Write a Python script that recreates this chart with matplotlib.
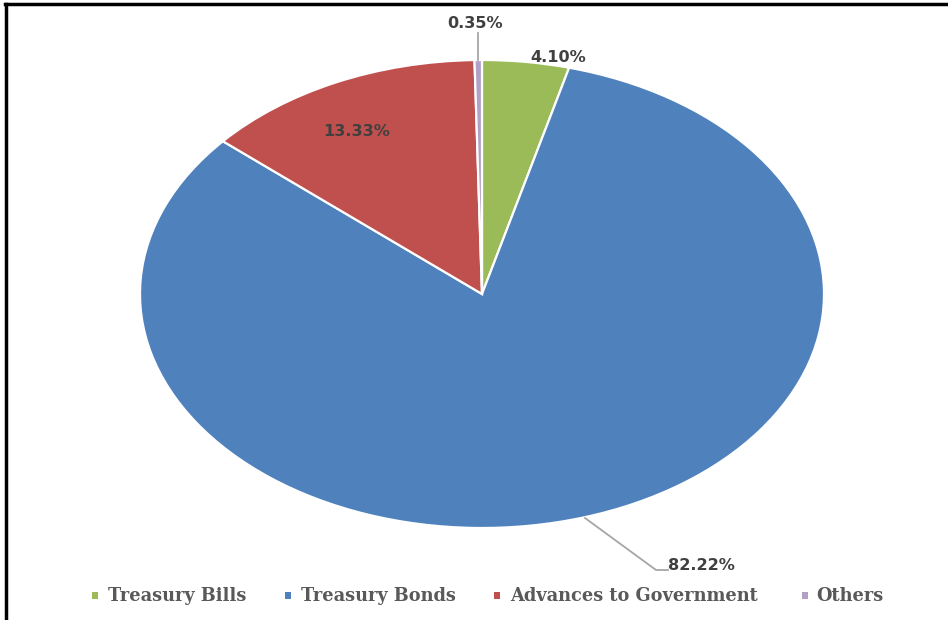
import matplotlib
matplotlib.use("Agg")
import matplotlib.pyplot as plt
from matplotlib.patches import Rectangle
from matplotlib.lines import Line2D

categories = ["Treasury Bills", "Treasury Bonds", "Advances to Government", "Others"]
shares = [4.10, 82.22, 13.33, 0.35]
colors = ["#9BBB59", "#4F81BD", "#C0504D", "#B2A1C7"]

W, H = 948, 620
cx, cy = 482, 294          # pie centre, pixels
rx, ry = 342, 234          # horizontal / vertical radius, pixels

fig = plt.figure(figsize=(W / 100, H / 100), dpi=100)
ax = fig.add_axes([0, 0, 1, 1])
wedges, _ = ax.pie(shares, colors=colors, startangle=90, counterclock=False,
                   wedgeprops=dict(edgecolor="white", linewidth=1.6))
ax.set_aspect("auto")
ax.set_xlim(-cx / rx, (W - cx) / rx)
ax.set_ylim(-(H - cy) / ry, cy / ry)
ax.axis("off")


def px(x, y):
    """Pixel position -> data coordinates of the pie axes."""
    return (x - cx) / rx, (cy - y) / ry


lab_kw = dict(fontsize=11.6, fontweight="bold", color="#404040",
              family="DejaVu Sans")
lead_kw = dict(color="#A6A6A6", linewidth=1.3)

# Treasury Bills
ax.text(*px(558, 58), f"{shares[0]:.2f}%", ha="center", va="center", **lab_kw)
# Treasury Bonds
ax.plot(*zip(px(585, 518), px(656, 570), px(668, 570)), **lead_kw)
ax.text(*px(668, 566), f"{shares[1]:.2f}%", ha="left", va="center", **lab_kw)
# Advances to Government
ax.text(*px(357, 131), f"{shares[2]:.2f}%", ha="center", va="center", **lab_kw)
# Others
ax.plot(*zip(px(478, 60), px(478, 33)), **lead_kw)
ax.text(*px(475, 24), f"{shares[3]:.2f}%", ha="center", va="center", **lab_kw)

# Frame lines on top and left edges
fig.add_artist(Line2D([5 / W, 1], [1 - 4 / H, 1 - 4 / H], color="black",
                      linewidth=2.5, transform=fig.transFigure))
fig.add_artist(Line2D([6 / W, 6 / W], [0, 1 - 4 / H], color="black",
                      linewidth=2.5, transform=fig.transFigure))

# Legend row: colour key squares followed by category names
key_x = [95, 288, 497, 805]
text_x = [108, 301, 510, 816]
row_y = 596
for kx, tx, name, col in zip(key_x, text_x, categories, colors):
    fig.add_artist(Rectangle(((kx - 3) / W, 1 - (row_y + 3) / H), 6 / W, 7 / H,
                             facecolor=col, edgecolor="none",
                             transform=fig.transFigure))
    fig.text(tx / W, 1 - row_y / H, name, ha="left", va="center",
             family="DejaVu Serif", weight="bold", fontsize=12.8,
             color="#595959")

fig.savefig("out.png", dpi=100, facecolor="white")
